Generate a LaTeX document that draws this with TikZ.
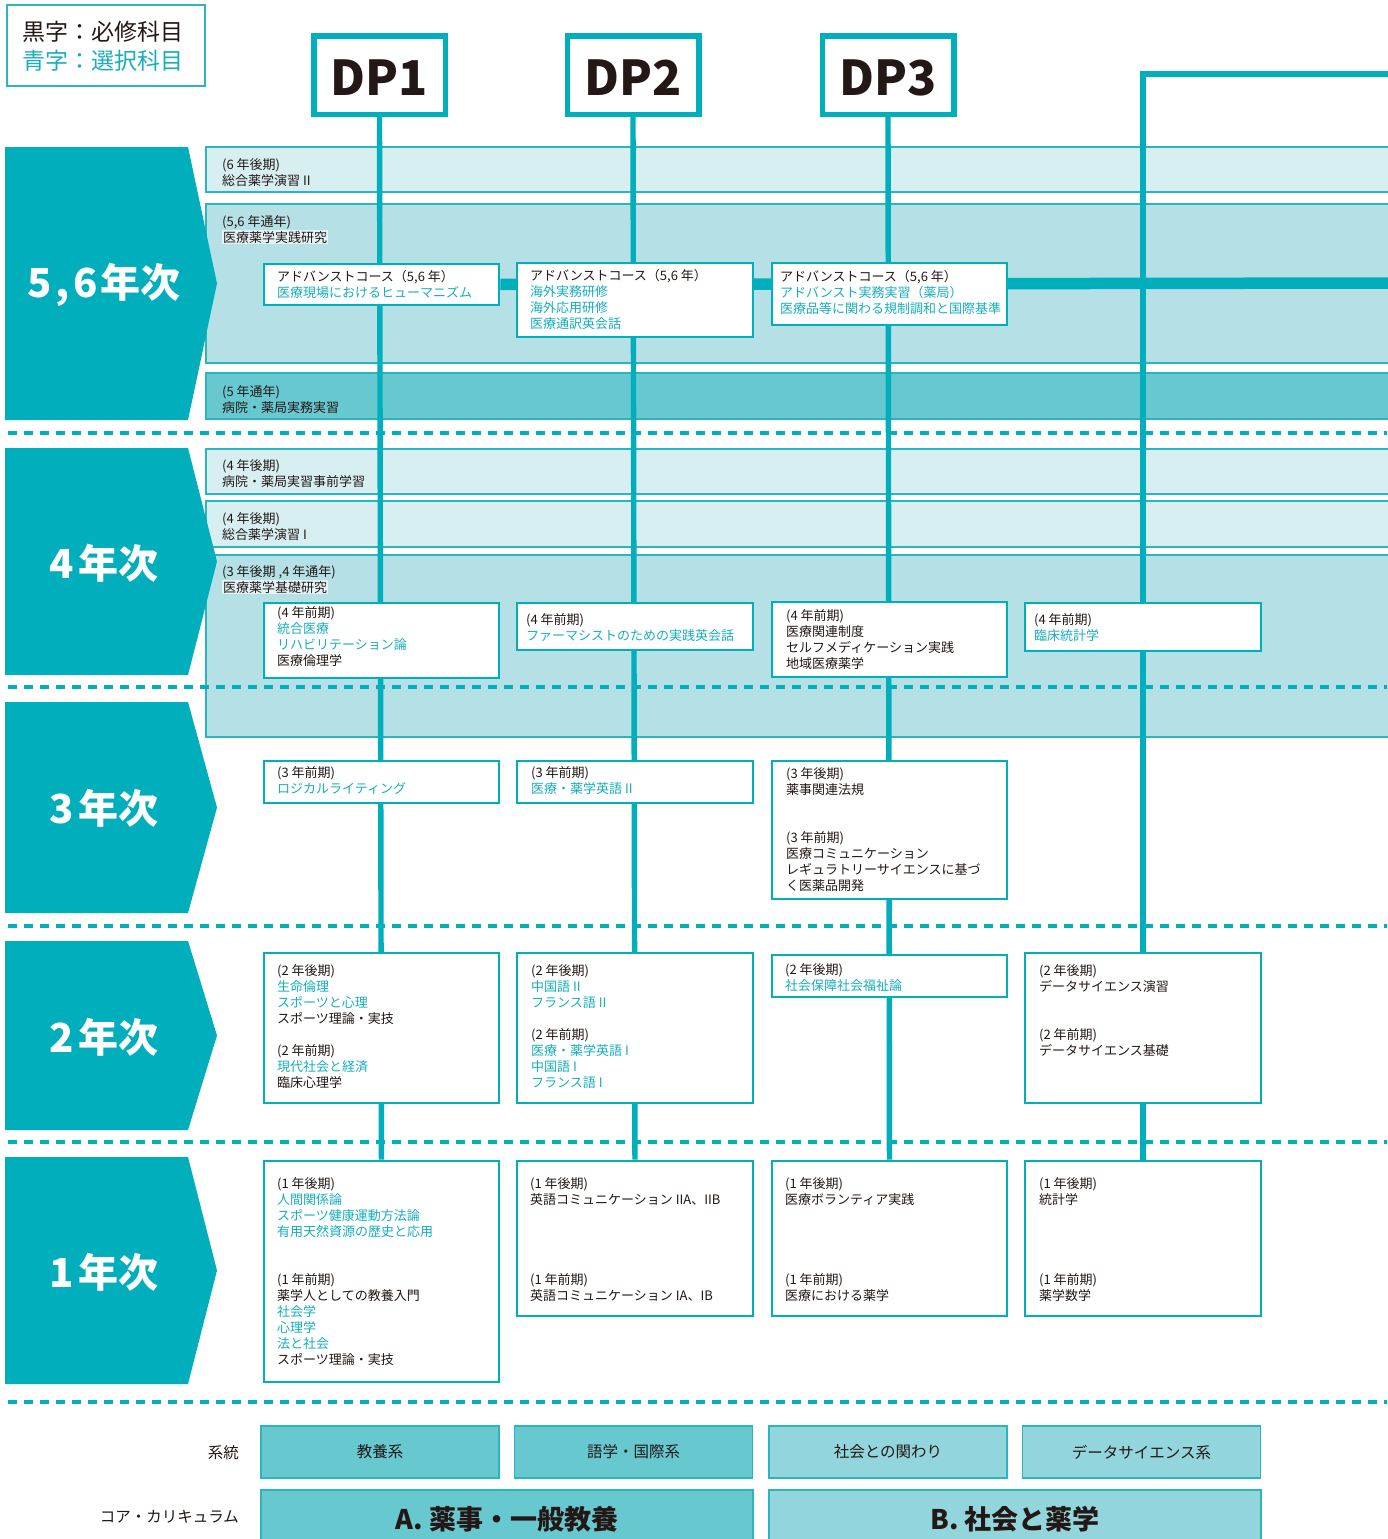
\documentclass[tikz,border=0pt]{standalone}
\usepackage{fontspec}
\setmainfont{Noto Sans CJK JP}
\usetikzlibrary{calc}
\definecolor{tl}{HTML}{00AFBB}
\definecolor{tltext}{HTML}{17AEBC}
\definecolor{bandL}{HTML}{D8EFF2}
\definecolor{bandM}{HTML}{B5E1E6}
\definecolor{bandD}{HTML}{67C8D0}
\definecolor{botL}{HTML}{92D5DC}
\definecolor{bdr}{HTML}{2BB5C0}
\definecolor{ink}{HTML}{231815}
\definecolor{hl}{HTML}{E4F4F6}
\pgfdeclarelayer{bglayer}
\pgfdeclarelayer{bandlayer}
\pgfdeclarelayer{linelayer}
\pgfsetlayers{bglayer,bandlayer,linelayer,main}
\newcommand\tc[1]{\textcolor{tltext}{#1}}
\newcommand\hlb[1]{{\setlength{\fboxsep}{0.8pt}\colorbox{hl}{#1}}}
\newcommand\mybox[5]{\node[cbox, minimum width={(#4)-(#2)}, minimum height={(#5)-(#3)}] (#1) at (#2,#3) {};}
\begin{document}
\begin{tikzpicture}[x=1pt,y=-1pt,
  cbox/.style={draw=tl, line width=2.9pt, fill=white, inner sep=0pt, anchor=north west},
  txt/.style={inner sep=0pt, anchor=north west, align=left, yshift=-2pt, font=\fontsize{13}{16}\selectfont, text=ink},
  band/.style={draw=bdr, line width=1.3pt},
  dashline/.style={draw=tl, line width=3.2pt, dash pattern=on 8.5pt off 7.5pt},
  vline/.style={draw=tl, line width=5.4pt},
  hline/.style={draw=tl, line width=11.5pt},
  dpbox/.style={draw=tl, line width=5.5pt, fill=white, minimum width=131.5pt, minimum height=78.5pt, inner sep=0pt, text height=40pt, text depth=0pt, font=\fontsize{48}{48}\selectfont\bfseries, text=ink},
  chev/.style={fill=tl},
  yearlab/.style={text=white, font=\fontsize{40}{40}\selectfont\bfseries, inner sep=0pt},
  cat/.style={draw=bdr, line width=1.2pt, minimum width=238pt, minimum height=52pt, inner sep=0pt, font=\fontsize{15.5}{16}\selectfont, text=ink},
  core/.style={draw=bdr, line width=1.2pt, minimum width=492pt, minimum height=58pt, inner sep=0pt, font=\fontsize{27}{28}\selectfont\bfseries, text=ink},
  sidelab/.style={anchor=east, inner sep=0pt, font=\fontsize{15.5}{16}\selectfont, text=ink}
]
\useasboundingbox (0,0) rectangle (1387,1539);
\begin{pgfonlayer}{bglayer}
  \fill[white] (0,0) rectangle (1387,1539);
\end{pgfonlayer}

% ---------- bands and separators ----------
\begin{pgfonlayer}{bandlayer}
  \path[band, fill=bandL] (206,147) rectangle (1396,192);
  \path[band, fill=bandM] (206,204) rectangle (1396,363);
  \path[band, fill=bandD] (206,373) rectangle (1396,419);
  \path[band, fill=bandL] (206,449) rectangle (1396,494);
  \path[band, fill=bandL] (206,501) rectangle (1396,547);
  \path[band, fill=bandM] (206,555) rectangle (1396,737);
  \draw[dashline] (8,433) -- (1387,433);
  \draw[dashline] (8,687) -- (1387,687);
  \draw[dashline] (8,926) -- (1387,926);
  \draw[dashline] (8,1142) -- (1387,1142);
  \draw[dashline] (8,1402) -- (1387,1402);
\end{pgfonlayer}

% ---------- legend ----------
\node[draw=bdr, line width=2pt, minimum width=198pt, minimum height=81pt, inner sep=0pt, anchor=north west] (legend) at (6,4) {};
\node[anchor=west, inner sep=0pt, font=\fontsize{23}{24}\selectfont, text=ink] (leg1) at (22,32) {黒字：必修科目};
\node[anchor=west, inner sep=0pt, font=\fontsize{23}{24}\selectfont, text=tltext] (leg2) at (22,61) {青字：選択科目};

% ---------- DP boxes ----------
\node[dpbox] (dp1) at (379.5,75) {DP1};
\node[dpbox] (dp2) at (633,75) {DP2};
\node[dpbox] (dp3) at (888,75) {DP3};
\coordinate (dp4) at (1392,74);

% ---------- year chevrons ----------
\fill[chev] (5,147) -- (188,147) -- (217,283.5) -- (188,420) -- (5,420) -- cycle;
\node[yearlab] (y56) at (104,285) {5\kern4pt,\kern4pt6\kern3pt年次};
\fill[chev] (5,448) -- (188,448) -- (217,561.5) -- (188,675) -- (5,675) -- cycle;
\node[yearlab] (y4) at (104,563) {4\kern4pt年次};
\fill[chev] (5,702) -- (188,702) -- (217,807.5) -- (188,913) -- (5,913) -- cycle;
\node[yearlab] (y3) at (104,808) {3\kern4pt年次};
\fill[chev] (5,941) -- (188,941) -- (217,1035.5) -- (188,1130) -- (5,1130) -- cycle;
\node[yearlab] (y2) at (104,1037) {2\kern4pt年次};
\fill[chev] (5,1157) -- (188,1157) -- (217,1270.5) -- (188,1384) -- (5,1384) -- cycle;
\node[yearlab] (y1) at (104,1272) {1\kern4pt年次};

% ---------- band texts ----------
\node[txt] (t6) at (222,156) {(6 年後期)\\総合薬学演習 II};
\node[txt] (t56) at (222,213) {(5,6 年通年)\\\hlb{医療薬学実践研究}};
\node[txt] (t5) at (222,383) {(5 年通年)\\病院・薬局実務実習};
\node[txt] (t4a) at (222,457) {(4 年後期)\\病院・薬局実習事前学習};
\node[txt] (t4b) at (222,510) {(4 年後期)\\総合薬学演習 I};
\node[txt] (t34) at (222,563) {(3 年後期 ,4 年通年)\\\hlb{医療薬学基礎研究}};

% ---------- course boxes ----------
\mybox{adv1}{262.5}{262.5}{497.5}{303.5}
\node[txt] (adv1t) at (277,268) {アドバンストコース（5,6 年）\\\tc{医療現場におけるヒューマニズム}};
\mybox{adv2}{515.5}{261.5}{751.5}{335.5}
\node[txt] (adv2t) at (530,267) {アドバンストコース（5,6 年）\\\tc{海外実務研修}\\\tc{海外応用研修}\\\tc{医療通訳英会話}};
\mybox{adv3}{770.5}{261.5}{1005.5}{323.5}
\node[txt] (adv3t) at (780,268) {アドバンストコース（5,6 年）\\\tc{アドバンスト実務実習（薬局）}\\\tc{医療品等に関わる規制調和と国際基準}};

\mybox{f1}{262.5}{601.5}{497.5}{676.5}
\node[txt] (f1t) at (277,604) {(4 年前期)\\\tc{統合医療}\\\tc{リハビリテーション論}\\医療倫理学};
\mybox{f2}{515.5}{601.5}{751.5}{648.5}
\node[txt] (f2t) at (526,611) {(4 年前期)\\\tc{ファーマシストのための実践英会話}};
\mybox{f3}{770.5}{600.5}{1005.5}{675.5}
\node[txt] (f3t) at (786,607) {(4 年前期)\\医療関連制度\\セルフメディケーション実践\\地域医療薬学};
\mybox{f4}{1023.5}{601.5}{1259.5}{649.5}
\node[txt] (f4t) at (1034,611) {(4 年前期)\\\tc{臨床統計学}};

\mybox{h1}{262.5}{759.5}{497.5}{801.5}
\node[txt] (h1t) at (277,764) {(3 年前期)\\\tc{ロジカルライティング}};
\mybox{h2}{515.5}{759.5}{751.5}{801.5}
\node[txt] (h2t) at (531,764) {(3 年前期)\\\tc{医療・薬学英語 II}};
\mybox{h3}{770.5}{759.5}{1005.5}{897.5}
\node[txt] (h3t) at (786,765) {(3 年後期)\\薬事関連法規\\[32pt](3 年前期)\\医療コミュニケーション\\レギュラトリーサイエンスに基づ\\く医薬品開発};

\mybox{s1}{262.5}{951.5}{497.5}{1101.5}
\node[txt] (s1t) at (277,962) {(2 年後期)\\\tc{生命倫理}\\\tc{スポーツと心理}\\スポーツ理論・実技\\[16pt](2 年前期)\\\tc{現代社会と経済}\\臨床心理学};
\mybox{s2}{515.5}{951.5}{751.5}{1101.5}
\node[txt] (s2t) at (531,962) {(2 年後期)\\\tc{中国語 II}\\\tc{フランス語 II}\\[16pt](2 年前期)\\\tc{医療・薬学英語 I}\\\tc{中国語 I}\\\tc{フランス語 I}};
\mybox{s3}{770.5}{953.5}{1005.5}{995.5}
\node[txt] (s3t) at (785,961) {(2 年後期)\\\tc{社会保障社会福祉論}};
\mybox{s4}{1023.5}{951.5}{1259.5}{1101.5}
\node[txt] (s4t) at (1039,962) {(2 年後期)\\データサイエンス演習\\[32pt](2 年前期)\\データサイエンス基礎};

\mybox{o1}{262.5}{1159.5}{497.5}{1380.5}
\node[txt] (o1t) at (277,1175) {(1 年後期)\\\tc{人間関係論}\\\tc{スポーツ健康運動方法論}\\\tc{有用天然資源の歴史と応用}\\[32pt](1 年前期)\\薬学人としての教養入門\\\tc{社会学}\\\tc{心理学}\\\tc{法と社会}\\スポーツ理論・実技};
\mybox{o2}{515.5}{1159.5}{751.5}{1314.5}
\node[txt] (o2t) at (530,1175) {(1 年後期)\\英語コミュニケーション IIA、IIB\\[64pt](1 年前期)\\英語コミュニケーション IA、IB};
\mybox{o3}{770.5}{1159.5}{1005.5}{1314.5}
\node[txt] (o3t) at (785,1175) {(1 年後期)\\医療ボランティア実践\\[64pt](1 年前期)\\医療における薬学};
\mybox{o4}{1023.5}{1159.5}{1259.5}{1314.5}
\node[txt] (o4t) at (1039,1175) {(1 年後期)\\統計学\\[64pt](1 年前期)\\薬学数学};

% ---------- connectors ----------
\coordinate (advend) at (1396,283);
\begin{pgfonlayer}{linelayer}
  \draw[vline] (dp1.south) -- (o1.north);
  \draw[vline] (dp2.south) -- (o2.north);
  \draw[vline] (dp3.south) -- (o3.north);
  \draw[vline] (dp4) -| (o4.north);
  \draw[hline] (adv1.east) -- (advend);
\end{pgfonlayer}

% ---------- bottom legend ----------
\node[sidelab] (lk) at (239,1453) {系統};
\node[cat, fill=bandD] (k1) at (380,1452) {教養系};
\node[cat, fill=bandD] (k2) at (633.5,1452) {語学・国際系};
\node[cat, fill=botL] (k3) at (888,1452) {社会との関わり};
\node[cat, fill=botL] (k4) at (1141.5,1452) {データサイエンス系};
\node[sidelab] (lc) at (239,1517) {コア・カリキュラム};
\node[core, fill=bandD] (ca) at (507,1519) {A. 薬事・一般教養};
\node[core, fill=botL] (cb) at (1015,1519) {B. 社会と薬学};
\end{tikzpicture}
\end{document}
